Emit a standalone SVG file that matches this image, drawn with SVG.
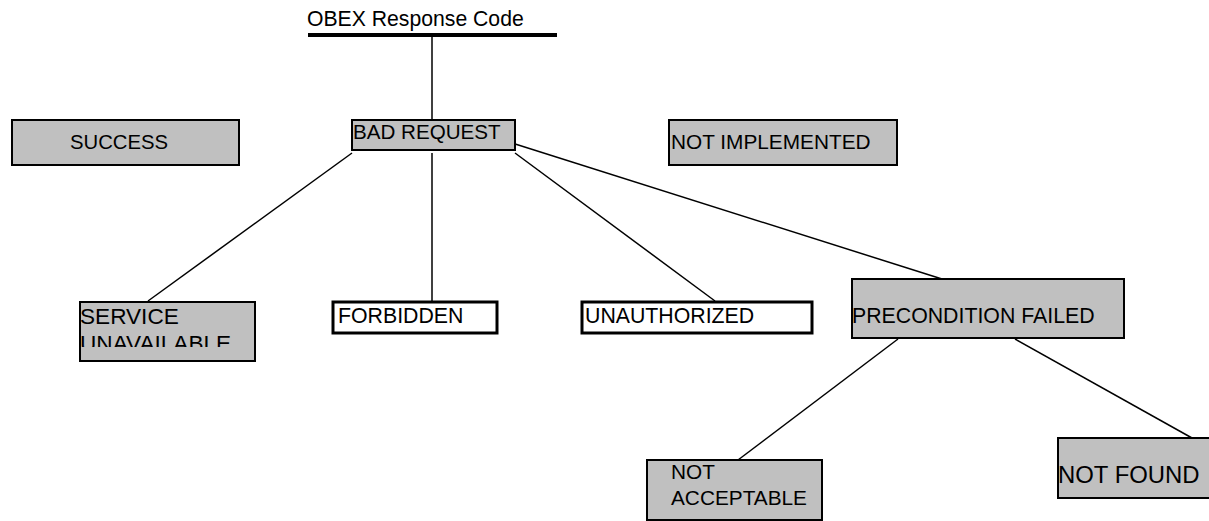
<svg xmlns="http://www.w3.org/2000/svg" width="1209" height="521" viewBox="0 0 1209 521">
<style>
text{font-family:"Liberation Sans",Arial,sans-serif;fill:#000}
.g{fill:#c0c0c0;stroke:#000;stroke-width:2}
.w{fill:#fff;stroke:#000;stroke-width:3}
.c{stroke:#000;stroke-width:1.5;fill:none}
</style>
<defs><clipPath id="svc"><rect x="80" y="302" width="175" height="45"/></clipPath></defs>
<rect width="1209" height="521" fill="#fff"/>
<g id="connectors">
<line class="c" x1="432" y1="37" x2="432" y2="120"/>
<line class="c" x1="352" y1="153" x2="148" y2="301"/>
<line class="c" x1="432" y1="153" x2="432" y2="301"/>
<line class="c" x1="515" y1="153" x2="715" y2="301"/>
<line class="c" x1="512" y1="143" x2="942" y2="279"/>
<line class="c" x1="898" y1="339" x2="738" y2="460"/>
<line class="c" x1="1015" y1="339" x2="1192" y2="438"/>
</g>
<g id="root">
<text x="307" y="26" font-size="21.2">OBEX Response Code</text>
<line x1="308" y1="35" x2="557" y2="35" stroke="#000" stroke-width="4"/>
</g>
<g id="success"><rect class="g" x="12" y="120" width="227" height="45"/><text x="70" y="149" font-size="20.3">SUCCESS</text></g>
<g id="bad-request"><rect class="g" x="352" y="120" width="163" height="30"/><text x="353" y="139" font-size="20.6">BAD REQUEST</text></g>
<g id="not-implemented"><rect class="g" x="669" y="120" width="228" height="45"/><text x="671" y="149" font-size="20.8">NOT IMPLEMENTED</text></g>
<g id="service-unavailable"><rect class="g" x="80" y="302" width="175" height="59"/><g clip-path="url(#svc)"><text x="80" y="324" font-size="22.6">SERVICE</text><text x="80" y="351" font-size="22.6">UNAVAILABLE</text></g></g>
<g id="forbidden"><rect class="w" x="333" y="302" width="164" height="31"/><text x="338" y="323" font-size="21.3">FORBIDDEN</text></g>
<g id="unauthorized"><rect class="w" x="582" y="302" width="230" height="31"/><text x="585" y="323" font-size="21.3">UNAUTHORIZED</text></g>
<g id="precondition-failed"><rect class="g" x="852" y="279" width="272" height="59"/><text x="852" y="323" font-size="21.3">PRECONDITION FAILED</text></g>
<g id="not-acceptable"><rect class="g" x="647" y="460" width="175" height="60"/><text x="671" y="479" font-size="20.8">NOT</text><text x="671" y="505" font-size="20.8">ACCEPTABLE</text></g>
<g id="not-found"><rect class="g" x="1058" y="438" width="152" height="60"/><text x="1058" y="483" font-size="23.9">NOT FOUND</text></g>
</svg>
